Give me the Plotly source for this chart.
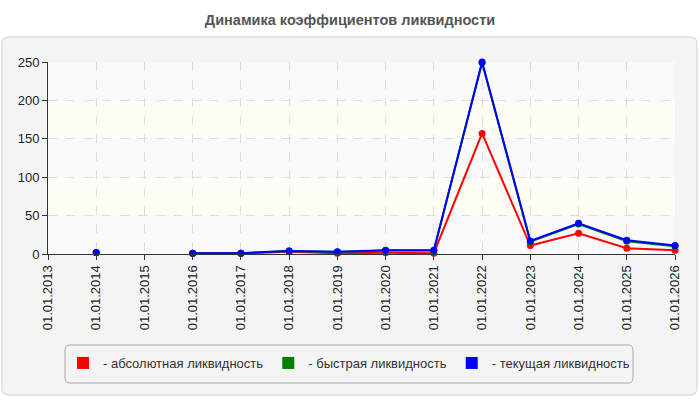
import plotly.graph_objects as go

dates = ["01.01.2013", "01.01.2014", "01.01.2015", "01.01.2016", "01.01.2017",
         "01.01.2018", "01.01.2019", "01.01.2020", "01.01.2021", "01.01.2022",
         "01.01.2023", "01.01.2024", "01.01.2025", "01.01.2026"]
absolute = [None, 1.5, None, 0.8, 0.8, 3, 1, 1.5, 1, 157, 11, 27, 7.5, 5]
quick = [None, 1.8, None, 1, 1, 4, 2.5, 4.5, 4.5, 249, 16, 39, 16.5, 10]
current = [None, 2, None, 1, 1, 4, 3, 5, 5, 250, 17, 40, 18, 11]
series_names = ["- абсолютная ликвидность", "- быстрая ликвидность", "- текущая ликвидность"]
series_colors = ["#ff0000", "#008000", "#0000ff"]
y_ticks = [0, 50, 100, 150, 200, 250]

L, R, T, B = 48, 25, 62, 146
W, H = 700, 400
PW, PH = W - L - R, H - T - B


def px2paper(x, y):
    return (x - L) / PW, (H - B - y) / PH


def rounded_rect(x0, y0, x1, y1, r):
    pts = []
    def p(x, y):
        a, b = px2paper(x, y)
        return f"{a:.5f},{b:.5f}"
    path = (f"M {p(x0 + r, y0)} L {p(x1 - r, y0)} Q {p(x1, y0)} {p(x1, y0 + r)} "
            f"L {p(x1, y1 - r)} Q {p(x1, y1)} {p(x1 - r, y1)} "
            f"L {p(x0 + r, y1)} Q {p(x0, y1)} {p(x0, y1 - r)} "
            f"L {p(x0, y0 + r)} Q {p(x0, y0)} {p(x0 + r, y0)} Z")
    return path


fig = go.Figure()
for vals, name, col in zip([absolute, quick, current], series_names, series_colors):
    fig.add_trace(go.Scatter(x=dates, y=vals, mode="lines+markers", name=name,
                             line=dict(color=col, width=2), marker=dict(color=col, size=7),
                             connectgaps=False, showlegend=False, cliponaxis=False,
                             hoverinfo="x+y"))
for name, col in zip(series_names, series_colors):
    fig.add_trace(go.Scatter(x=[None], y=[None], mode="markers", name=name,
                             marker=dict(color=col, size=12, symbol="square"), showlegend=True))

shapes = [dict(type="path", xref="paper", yref="paper", path=rounded_rect(2, 37, 697, 395, 7),
               fillcolor="#f4f4f4", line=dict(color="#dedede", width=1.5), layer="below"),
          dict(type="path", xref="paper", yref="paper", path=rounded_rect(65, 345, 633, 383, 5),
               fillcolor="#f4f4f4", line=dict(color="#aaaaaa", width=1), layer="below")]
for i in range(5):
    shapes.append(dict(type="rect", xref="paper", yref="y", x0=0, x1=1,
                       y0=y_ticks[i], y1=y_ticks[i + 1],
                       fillcolor="#f9f9f9" if i % 2 == 0 else "#fdfdf6",
                       line=dict(width=0), layer="below"))

fig.update_layout(
    width=W, height=H,
    margin=dict(l=L, r=R, t=T, b=B),
    paper_bgcolor="white", plot_bgcolor="rgba(0,0,0,0)",
    font=dict(family="Liberation Sans, Arial, sans-serif", size=13, color="#222"),
    title=dict(text="<b>Динамика коэффициентов ликвидности</b>", x=0.5, xanchor="center",
               y=1 - 20 / 400, yanchor="middle", font=dict(size=14.5, color="#555")),
    shapes=shapes,
    showlegend=True,
    legend=dict(orientation="h", x=px2paper(349, 0)[0], xanchor="center",
                y=px2paper(0, 348)[1], yanchor="top",
                bgcolor="rgba(0,0,0,0)", borderwidth=0,
                font=dict(size=13, color="#333"), itemwidth=30),
    xaxis=dict(type="category", tickangle=-90, showline=True, linecolor="#333",
               ticks="outside", ticklen=5, tickcolor="#333",
               showgrid=True, gridcolor="#dddddd", griddash="dash",
               range=[0, 13], tickfont=dict(size=13, color="#222")),
    yaxis=dict(range=[0, 250], tickvals=y_ticks, showline=True, linecolor="#333",
               ticks="outside", ticklen=5, tickcolor="#333",
               showgrid=True, gridcolor="#dddddd", griddash="dash",
               zeroline=False, tickfont=dict(size=13, color="#222")),
)
fig.write_html("out.html")
